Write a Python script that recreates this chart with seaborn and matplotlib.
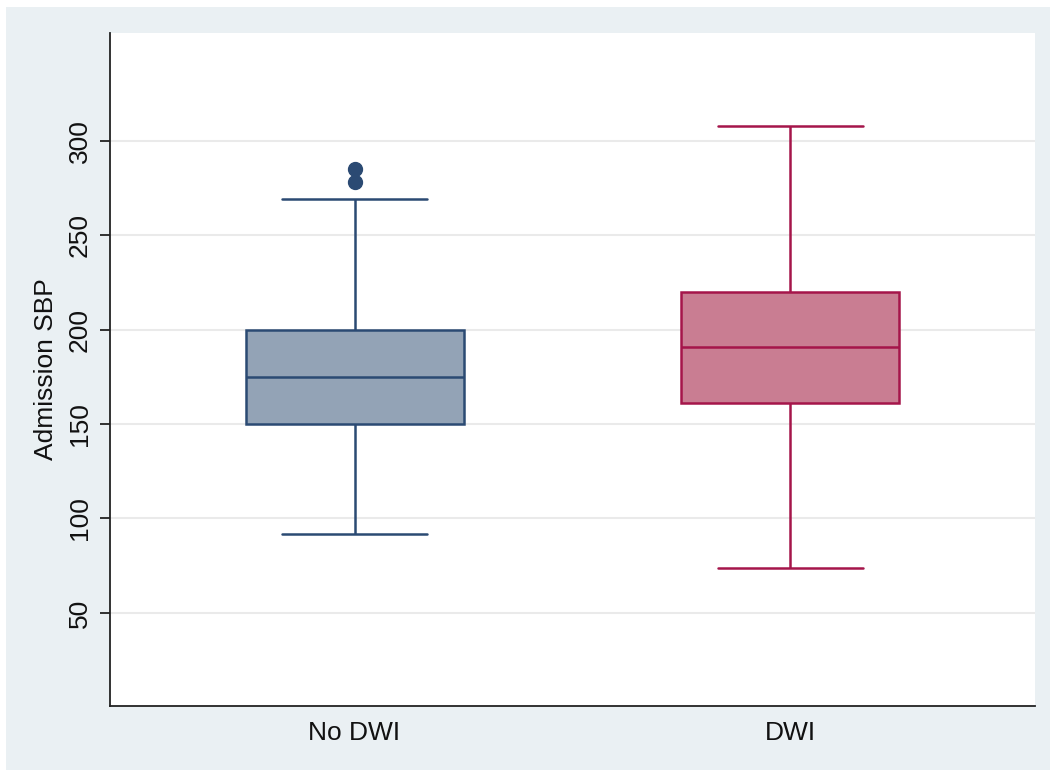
import numpy as np
import pandas as pd
import seaborn as sns
import matplotlib.pyplot as plt
from matplotlib.patches import Rectangle

# values (sample chosen so the box stats match)
groups = ["No DWI", "DWI"]
no_dwi_sbp = [92, 150, 150, 150, 150, 175, 175, 200, 200, 200, 269, 278, 285]
dwi_sbp = [74, 161, 161, 161, 191, 220, 220, 220, 308]
y_ticks = [50, 100, 150, 200, 250, 300]

fill_colors = ["#93A3B6", "#C97D92"]
edge_colors = ["#2B4A73", "#A5154A"]

df = pd.concat([
    pd.DataFrame({"group": "No DWI", "sbp": no_dwi_sbp}),
    pd.DataFrame({"group": "DWI", "sbp": dwi_sbp}),
])

sns.set_style("white")
plt.rcParams["font.family"] = ["Liberation Sans", "DejaVu Sans"]
plt.rcParams["text.color"] = "#111111"
plt.rcParams["xtick.color"] = "#111111"
plt.rcParams["ytick.color"] = "#111111"
plt.rcParams["axes.labelcolor"] = "#111111"

fig = plt.figure(figsize=(10.52, 7.70), dpi=100, facecolor="white")
fig.patches.append(Rectangle((6 / 1052, 0), 1044 / 1052, 763 / 770,
                             transform=fig.transFigure, facecolor="#EAF0F3",
                             edgecolor="none", zorder=-10))
ax = fig.add_axes([110 / 1052, 1 - 706 / 770, 925 / 1052, 673 / 770])
ax.set_facecolor("white")

for g, fc, ec in zip(groups, fill_colors, edge_colors):
    sub = df[df["group"] == g]
    sns.boxplot(data=sub, x="group", y="sbp", order=groups, ax=ax,
                color=fc, linecolor=ec, linewidth=1.8, width=0.5,
                saturation=1,
                flierprops=dict(marker="o", markersize=10,
                                markerfacecolor=ec, markeredgecolor=ec))

# widen caps a bit (Stata style)
for line in ax.lines:
    xd = np.asarray(line.get_xdata(), dtype=float)
    yd = np.asarray(line.get_ydata(), dtype=float)
    if len(xd) == 2 and yd[0] == yd[1] and xd[0] != xd[1]:
        c = xd.mean()
        half = abs(xd[1] - xd[0]) / 2
        if half < 0.2:
            line.set_xdata([c - 0.167, c + 0.167])

ax.set_xlim(-0.561, 1.561)
ax.set_ylim(0.7, 357)
ax.set_yticks(y_ticks)
ax.set_yticklabels([str(t) for t in y_ticks], rotation=90, va="center")
ax.yaxis.grid(True, color="#EAEAEA", linewidth=1.5)
ax.set_axisbelow(True)

for s in ["top", "right"]:
    ax.spines[s].set_visible(False)
for s in ["left", "bottom"]:
    ax.spines[s].set_color("#222222")
    ax.spines[s].set_linewidth(1.3)

ax.tick_params(axis="y", length=7, width=1.3, color="#222222",
               labelsize=19, pad=6, left=True)
ax.tick_params(axis="x", length=0, labelsize=19, pad=11)
ax.set_xlabel("")
ax.set_ylabel("Admission SBP", fontsize=19)
ax.yaxis.set_label_coords(-(110 - 58) / 925, 0.5)

fig.savefig("out.png", dpi=100, facecolor=fig.get_facecolor())
